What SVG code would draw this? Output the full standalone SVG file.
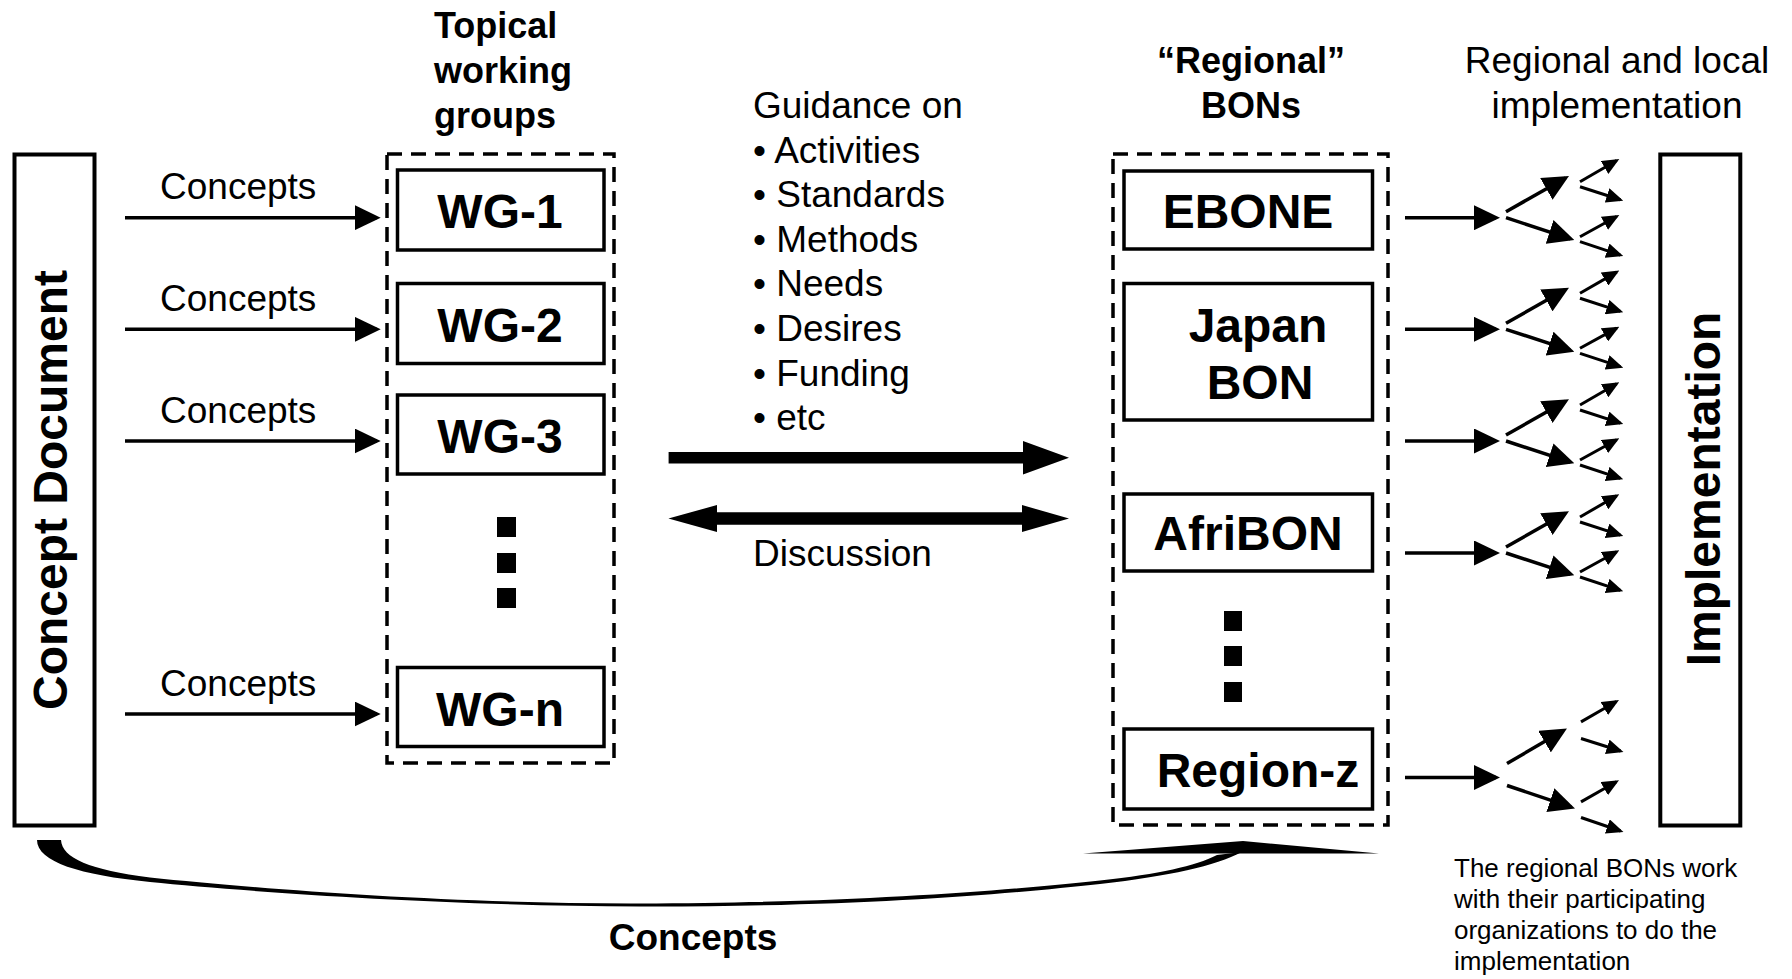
<svg xmlns="http://www.w3.org/2000/svg" xmlns:xlink="http://www.w3.org/1999/xlink" width="1792" height="979" viewBox="0 0 1792 979">
<style>
.t{font-family:'Liberation Sans',Arial,Helvetica,sans-serif;fill:#000}
.n37{font-size:37px}
.b{font-weight:bold}
.h36{font-size:36px;font-weight:bold}
.b48{font-size:48px;font-weight:bold}
.note{font-size:26px}
.box{fill:#fff;stroke:#000;stroke-width:3.5}
.big{fill:#fff;stroke:#000;stroke-width:4}
.dash{fill:none;stroke:#000;stroke-width:3.5;stroke-dasharray:15 9}
.ln{fill:none;stroke:#000;stroke-width:3.5}
.sm{fill:none;stroke:#000;stroke-width:3}
</style>
<defs>
<marker id="ah" markerUnits="userSpaceOnUse" viewBox="0 0 26 25" markerWidth="26" markerHeight="25" refX="22" refY="12.5" orient="auto"><path d="M0,0 L26,12.5 L0,25 Z" fill="#000"/></marker>
<marker id="ahs" markerUnits="userSpaceOnUse" viewBox="0 0 17 15" markerWidth="17" markerHeight="15" refX="14" refY="7.5" orient="auto"><path d="M0,0 L17,7.5 L0,15 Z" fill="#000"/></marker>
<g id="fan">
<path class="ln" d="M1405,0 H1496" marker-end="url(#ah)"/>
<path class="ln" d="M1506,-6 L1565.5,-39.7" marker-end="url(#ah)"/>
<path class="ln" d="M1506,0 L1570.5,21.1" marker-end="url(#ah)"/>
<path class="sm" d="M1580,-36 L1616.7,-57.2" marker-end="url(#ahs)"/>
<path class="sm" d="M1580,-31 L1620.4,-17.9" marker-end="url(#ahs)"/>
<path class="sm" d="M1580,19 L1616.7,-1.2" marker-end="url(#ahs)"/>
<path class="sm" d="M1580,24 L1620.4,37.4" marker-end="url(#ahs)"/>
</g>
</defs>
<rect width="1792" height="979" fill="#fff"/>

<!-- Headers -->
<g id="hdr-topical" class="t h36">
<text x="434" y="38">Topical</text>
<text x="434" y="83">working</text>
<text x="434" y="128">groups</text>
</g>
<g id="hdr-regional" class="t h36" text-anchor="middle">
<text x="1251" y="73">“Regional”</text>
<text x="1251" y="118">BONs</text>
</g>
<g id="hdr-impl" class="t n37" text-anchor="middle">
<text x="1617" y="73">Regional and local</text>
<text x="1617" y="118">implementation</text>
</g>
<g id="guidance" class="t n37">
<text x="753" y="118">Guidance on</text>
<text x="753" y="162.5">• Activities</text>
<text x="753" y="207">• Standards</text>
<text x="753" y="251.8">• Methods</text>
<text x="753" y="296.4">• Needs</text>
<text x="753" y="341">• Desires</text>
<text x="753" y="385.7">• Funding</text>
<text x="753" y="430">• etc</text>
</g>
<g id="discussion" class="t n37"><text x="753" y="566">Discussion</text></g>

<!-- Concept Document -->
<g id="concept-document">
<rect class="big" x="14.5" y="154.5" width="80" height="671"/>
<text class="t b48" text-anchor="middle" transform="translate(67,490) rotate(-90)">Concept Document</text>
</g>

<!-- Working groups -->
<g id="wg-container"><rect class="dash" x="387" y="154" width="227" height="609"/></g>
<g id="wg-1"><rect class="box" x="397.5" y="170" width="206.5" height="80"/><text class="t b48" x="500" y="228.3" text-anchor="middle">WG-1</text></g>
<g id="wg-2"><rect class="box" x="397.5" y="283.5" width="206.5" height="80"/><text class="t b48" x="500" y="341.8" text-anchor="middle">WG-2</text></g>
<g id="wg-3"><rect class="box" x="397.5" y="395" width="206.5" height="79"/><text class="t b48" x="500" y="453" text-anchor="middle">WG-3</text></g>
<g id="wg-dots"><rect x="497" y="517" width="19" height="20"/><rect x="497" y="553" width="19" height="20"/><rect x="497" y="588" width="19" height="20"/></g>
<g id="wg-n"><rect class="box" x="397.5" y="667.5" width="206.5" height="79"/><text class="t b48" x="500" y="725.5" text-anchor="middle">WG-n</text></g>

<!-- Regional BONs -->
<g id="bon-container"><rect class="dash" x="1113" y="154" width="275" height="671"/></g>
<g id="ebone"><rect class="box" x="1124" y="171" width="248.5" height="78"/><text class="t b48" x="1248" y="228.3" text-anchor="middle">EBONE</text></g>
<g id="japan-bon"><rect class="box" x="1124" y="283.5" width="248.5" height="136.5"/><text class="t b48" x="1258" y="342" text-anchor="middle">Japan</text><text class="t b48" x="1260" y="399" text-anchor="middle">BON</text></g>
<g id="afribon"><rect class="box" x="1124" y="494" width="248.5" height="77"/><text class="t b48" x="1248" y="549.5" text-anchor="middle">AfriBON</text></g>
<g id="bon-dots"><rect x="1224" y="611" width="18" height="20"/><rect x="1224" y="646" width="18" height="20"/><rect x="1224" y="682" width="18" height="20"/></g>
<g id="region-z"><rect class="box" x="1124" y="729" width="248.5" height="80"/><text class="t b48" x="1258" y="786.7" text-anchor="middle">Region-z</text></g>

<!-- Implementation -->
<g id="implementation">
<rect class="big" x="1660.3" y="154.5" width="80" height="671"/>
<text class="t b48" text-anchor="middle" transform="translate(1720,489) rotate(-90)">Implementation</text>
</g>

<!-- Connectors -->
<g id="connectors">
<g id="concept-arrows">
<path class="ln" d="M125,217.7 H376.7" marker-end="url(#ah)"/>
<path class="ln" d="M125,329.3 H376.7" marker-end="url(#ah)"/>
<path class="ln" d="M125,441 H376.7" marker-end="url(#ah)"/>
<path class="ln" d="M125,714 H376.7" marker-end="url(#ah)"/>
</g>
<path id="guidance-arrow" d="M668.6,452 H1023 V441 L1069,457.7 L1023,474.5 V463.5 H668.6 Z" fill="#000"/>
<path id="discussion-arrow" d="M668.4,518.6 L717,505 V512.3 H1022 V505 L1069,518.6 L1022,532 V524.8 H717 V532 Z" fill="#000"/>
<use xlink:href="#fan" href="#fan" y="217.7"/>
<use xlink:href="#fan" href="#fan" y="329.3"/>
<use xlink:href="#fan" href="#fan" y="441"/>
<use xlink:href="#fan" href="#fan" y="553"/>
<g id="fan5" transform="translate(0,777.5)">
<path class="ln" d="M1405,0 H1496" marker-end="url(#ah)"/>
<path class="ln" d="M1507,-14 L1563.5,-47" marker-end="url(#ah)"/>
<path class="ln" d="M1507,8 L1571.2,29.7" marker-end="url(#ah)"/>
<path class="sm" d="M1581,-55.6 L1616.4,-76" marker-end="url(#ahs)"/>
<path class="sm" d="M1581,-39 L1620.6,-26.5" marker-end="url(#ahs)"/>
<path class="sm" d="M1581,24.4 L1616.4,4.2" marker-end="url(#ahs)"/>
<path class="sm" d="M1581,40 L1620.6,53.5" marker-end="url(#ahs)"/>
</g>
<g id="concepts-curve" fill="#000">
<path d="M37,840 C37,862 80,875 150,882 C250,892 450,906 640,906.5 C850,907 1000,895 1100,884 C1170,876 1215,866 1242,852 L1217,855 C1195,866 1160,874 1100,880.5 C1000,891 850,903 640,903.5 C450,904 260,889 150,877.5 C90,870 62,858 61,840 Z"/>
<path d="M1083,853.5 L1243,841 L1379,853.5 Z"/>
</g>
</g>
<g id="concepts-label" class="t b" font-size="37px"><text x="693" y="950" text-anchor="middle">Concepts</text></g>
<g id="concept-labels" class="t n37">
<text x="160" y="199.3">Concepts</text>
<text x="160" y="311">Concepts</text>
<text x="160" y="422.7">Concepts</text>
<text x="160" y="695.6">Concepts</text>
</g>
<g id="note" class="t note">
<text x="1454" y="877">The regional BONs work</text>
<text x="1454" y="908">with their participating</text>
<text x="1454" y="939">organizations to do the</text>
<text x="1454" y="970">implementation</text>
</g>
</svg>
